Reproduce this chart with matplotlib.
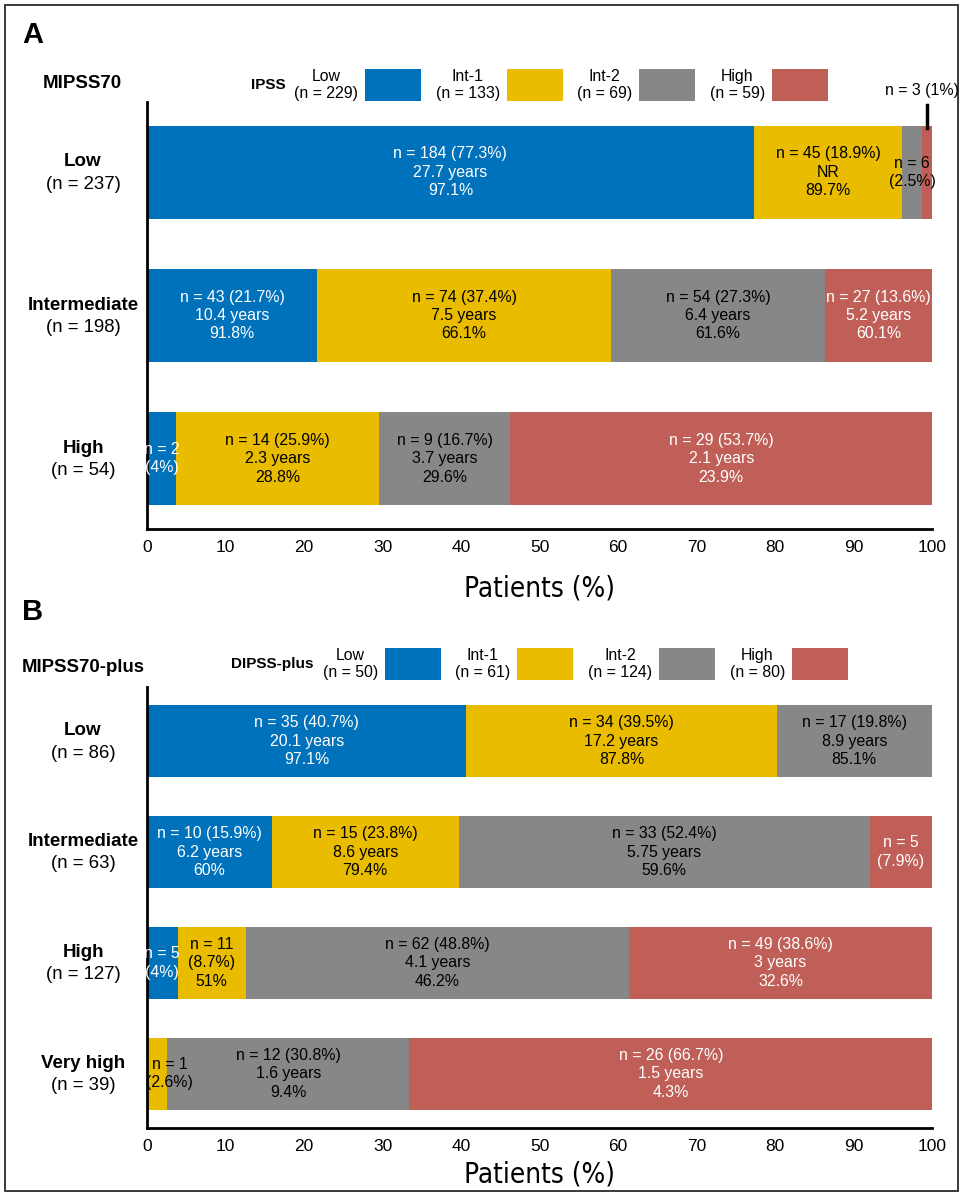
import matplotlib
matplotlib.use("Agg")
import matplotlib.pyplot as plt
from matplotlib.patches import Rectangle
from matplotlib.lines import Line2D
from matplotlib import font_manager as fm

plt.rcParams['font.family'] = ['Liberation Sans', 'DejaVu Sans']

W, H = 964, 1193

# ---------------- data ----------------
groups = ["Low", "Int-1", "Int-2", "High"]
colors = ["#0072BC", "#E9BC00", "#878787", "#BF5F57"]
text_colors = ["white", "black", "black", "white"]

# Panel A
a_rows = ["Low", "Intermediate", "High"]
a_row_n = ["(n = 237)", "(n = 198)", "(n = 54)"]
a_legend_n = ["(n = 229)", "(n = 133)", "(n = 69)", "(n = 59)"]
a_values = [
    [77.3, 18.9, 2.5, 1.3],
    [21.7, 37.4, 27.3, 13.6],
    [3.7, 25.9, 16.7, 53.7],
]
a_labels = [
    ["n = 184 (77.3%)\n27.7 years\n97.1%", "n = 45 (18.9%)\nNR\n89.7%", "n = 6\n(2.5%)", ""],
    ["n = 43 (21.7%)\n10.4 years\n91.8%", "n = 74 (37.4%)\n7.5 years\n66.1%",
     "n = 54 (27.3%)\n6.4 years\n61.6%", "n = 27 (13.6%)\n5.2 years\n60.1%"],
    ["n = 2\n(4%)", "n = 14 (25.9%)\n2.3 years\n28.8%", "n = 9 (16.7%)\n3.7 years\n29.6%",
     "n = 29 (53.7%)\n2.1 years\n23.9%"],
]
a_callout = "n = 3 (1%)"

# Panel B
b_rows = ["Low", "Intermediate", "High", "Very high"]
b_row_n = ["(n = 86)", "(n = 63)", "(n = 127)", "(n = 39)"]
b_legend_n = ["(n = 50)", "(n = 61)", "(n = 124)", "(n = 80)"]
b_values = [
    [40.7, 39.5, 19.8, 0.0],
    [15.9, 23.8, 52.4, 7.9],
    [3.9, 8.7, 48.8, 38.6],
    [0.0, 2.6, 30.8, 66.7],
]
b_labels = [
    ["n = 35 (40.7%)\n20.1 years\n97.1%", "n = 34 (39.5%)\n17.2 years\n87.8%",
     "n = 17 (19.8%)\n8.9 years\n85.1%", ""],
    ["n = 10 (15.9%)\n6.2 years\n60%", "n = 15 (23.8%)\n8.6 years\n79.4%",
     "n = 33 (52.4%)\n5.75 years\n59.6%", "n = 5\n(7.9%)"],
    ["n = 5\n(4%)", "n = 11\n(8.7%)\n51%", "n = 62 (48.8%)\n4.1 years\n46.2%",
     "n = 49 (38.6%)\n3 years\n32.6%"],
    ["", "n = 1\n(2.6%)", "n = 12 (30.8%)\n1.6 years\n9.4%", "n = 26 (66.7%)\n1.5 years\n4.3%"],
]
xticks = list(range(0, 101, 10))

# ---------------- layout helpers ----------------
def fx(px):
    return px / W

def fy(py):
    return 1 - py / H

# condensed font for the axis title, if one is installed
cond_fp = None
for f in fm.fontManager.ttflist:
    if f.name in ("Liberation Sans Narrow",) or (f.name == "DejaVu Sans" and "Condensed" in f.fname
                                                  and "Bold" not in f.fname and "Oblique" not in f.fname):
        cond_fp = fm.FontProperties(fname=f.fname)
        if f.name == "Liberation Sans Narrow" and "Bold" not in f.fname and "Italic" not in f.fname:
            break

fig = plt.figure(figsize=(W / 100, H / 100), dpi=100)

# outer frame
fig.patches.append(Rectangle((fx(5), fy(1191)), fx(958) - fx(5), fy(5) - fy(1191),
                             transform=fig.transFigure, fill=False,
                             edgecolor="#3a3a3a", linewidth=1.4))

ANN = 11.4
BAR_H = 0.65


def panel(top, bottom, rows, row_n, values, labels, label_dx=None):
    ax = fig.add_axes([fx(147), fy(bottom), fx(932) - fx(147), fy(top) - fy(bottom)])
    n = len(rows)
    ys = list(range(n))
    for gi in range(4):
        widths = [values[r][gi] for r in range(n)]
        lefts = [sum(values[r][:gi]) for r in range(n)]
        ax.barh(ys, widths, left=lefts, height=BAR_H, color=colors[gi], linewidth=0)
        for r in range(n):
            lab = labels[r][gi]
            if not lab:
                continue
            cx = lefts[r] + widths[r] / 2
            if label_dx and (r, gi) in label_dx:
                cx += label_dx[(r, gi)]
            ax.text(cx, r, lab, ha="center", va="center", ma="center",
                    fontsize=ANN, color=text_colors[gi], linespacing=1.28)
    ax.set_xlim(0, 100)
    ax.set_ylim(n - 1 + 0.49, -0.49)
    ax.set_xticks(xticks)
    ax.set_xticklabels([str(t) for t in xticks], fontsize=12.5)
    ax.tick_params(axis="x", length=0, pad=8)
    ax.set_yticks([])
    for s in ["top", "right"]:
        ax.spines[s].set_visible(False)
    for s in ["left", "bottom"]:
        ax.spines[s].set_linewidth(2)
        ax.spines[s].set_color("black")
    ax.margins(0)
    # row labels
    for r in range(n):
        ax.annotate(rows[r], xy=(-0.0815, r), xycoords=ax.get_yaxis_transform(),
                    xytext=(0, 7.5), textcoords="offset points",
                    ha="center", va="center", fontsize=13.5, fontweight="bold")
        ax.annotate(row_n[r], xy=(-0.0815, r), xycoords=ax.get_yaxis_transform(),
                    xytext=(0, -8.5), textcoords="offset points",
                    ha="center", va="center", fontsize=13.4)
    return ax


axA = panel(102, 529, a_rows, a_row_n, a_values, a_labels)
axB = panel(687, 1128, b_rows, b_row_n, b_values, b_labels, label_dx={(3, 1): 1.6})

# callout for tiny segment in panel A
cx = sum(a_values[0][:3]) + a_values[0][3] / 2
axA.add_line(Line2D([cx, cx], [-0.47, -0.31], color="black", linewidth=2.5, clip_on=False))
fig.text(fx(922), fy(91), a_callout, ha="center", va="center", fontsize=ANN)

# x labels
for yc in (588, 1174):
    if cond_fp is not None:
        fp = cond_fp.copy()
        fp.set_size(20)
        fig.text(fx(540), fy(yc), "Patients (%)", ha="center", va="center", fontproperties=fp)
    else:
        fig.text(fx(540), fy(yc), "Patients (%)", ha="center", va="center", fontsize=18)

# panel letters and titles
fig.text(fx(22), fy(35), "A", ha="left", va="center", fontsize=21, fontweight="bold")
fig.text(fx(22), fy(612), "B", ha="left", va="center", fontsize=21, fontweight="bold")
fig.text(fx(43), fy(83), "MIPSS70", ha="left", va="center", fontsize=13.5, fontweight="bold")
fig.text(fx(22), fy(668), "MIPSS70-plus", ha="left", va="center", fontsize=13.4, fontweight="bold")
fig.text(fx(286), fy(85), "IPSS", ha="right", va="center", fontsize=11, fontweight="bold")
fig.text(fx(314), fy(664), "DIPSS-plus", ha="right", va="center", fontsize=11, fontweight="bold")

# legends
def legend(box_x, y_top, y_bot, ns):
    for gi in range(4):
        x0 = box_x[gi]
        fig.patches.append(Rectangle((fx(x0), fy(y_bot)), fx(56), fy(y_top) - fy(y_bot),
                                     transform=fig.transFigure, facecolor=colors[gi],
                                     edgecolor="none"))
        fig.text(fx(x0 - 7), fy((y_top + y_bot) / 2), groups[gi] + "\n" + ns[gi],
                 ha="right", va="center", ma="center", fontsize=ANN, linespacing=1.2)

legend([365, 507, 639, 772], 69, 101, a_legend_n)
legend([385, 517, 659, 792], 648, 680, b_legend_n)

fig.savefig("out.png", dpi=100)
